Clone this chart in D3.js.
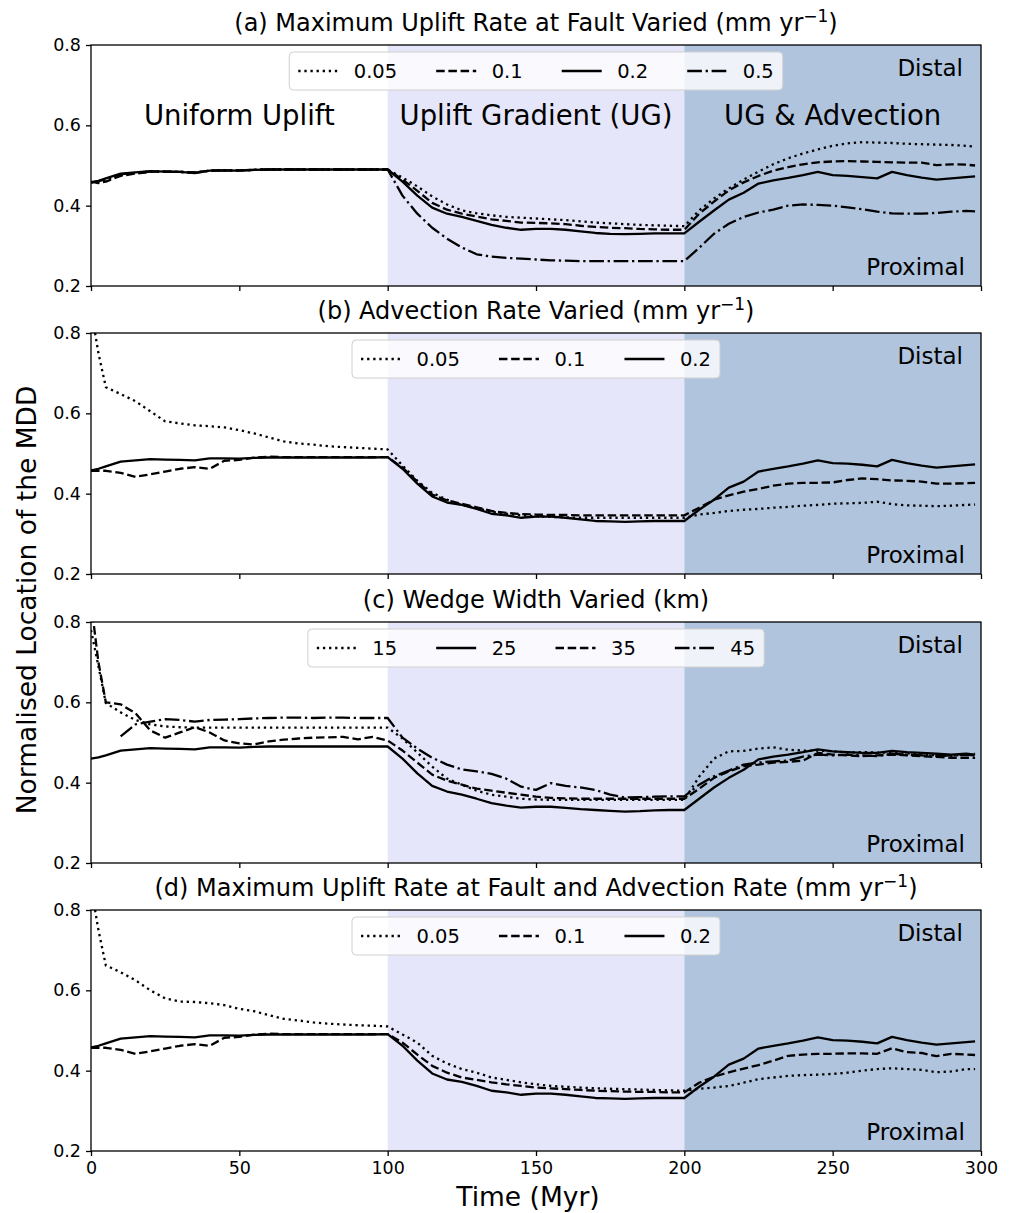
<!DOCTYPE html>
<html><head><meta charset="utf-8">
<script src="https://cdn.jsdelivr.net/npm/d3@7"></script>
<style>body{margin:0;background:#fff} text{font-family:"DejaVu Sans",sans-serif;fill:#000}</style>
</head><body><svg id="chart" width="1012" height="1213"></svg>
<script>
// ---------------- DATA ----------------
const timeMyr = [0,2.5,5,10,15,20,25,30,35,40,45,50,55,60,65,70,75,80,85,90,95,100,
  105,110,115,120,125,130,135,140,145,150,155,160,165,170,175,180,185,190,195,200,
  205,210,215,220,225,230,235,240,245,250,255,260,265,270,275,280,285,290,295,298];

const xTicks = [0,50,100,150,200,250,300];
const yTicks = [0.2,0.4,0.6,0.8];
const phaseLabels = ["Uniform Uplift","Uplift Gradient (UG)","UG & Advection"];
const phaseCentres = [50,150,250];
const phaseBounds = [[100,200],[200,300]];

// (a) Maximum uplift rate at fault varied
const a005 = [0.458,0.459,0.463,0.476,0.481,0.485,0.485,0.484,0.483,0.487,0.488,0.488,0.489,0.490,0.490,0.490,0.490,0.490,0.490,0.490,0.490,0.490,
  0.470,0.448,0.423,0.403,0.388,0.381,0.376,0.372,0.370,0.368,0.366,0.364,0.361,0.358,0.356,0.354,0.352,0.351,0.350,0.349,
  0.388,0.418,0.443,0.465,0.485,0.503,0.518,0.530,0.540,0.549,0.555,0.558,0.557,0.556,0.554,0.553,0.552,0.551,0.549,0.547];
const a01 = [0.460,0.456,0.460,0.474,0.480,0.484,0.485,0.484,0.483,0.487,0.488,0.488,0.489,0.490,0.490,0.490,0.490,0.490,0.490,0.490,0.490,0.490,
  0.465,0.437,0.407,0.390,0.380,0.373,0.366,0.362,0.358,0.357,0.356,0.354,0.350,0.347,0.345,0.344,0.342,0.341,0.340,0.340,
  0.380,0.410,0.438,0.458,0.474,0.487,0.496,0.503,0.508,0.510,0.511,0.510,0.509,0.508,0.507,0.507,0.501,0.503,0.502,0.500];
const a02 = [0.458,0.462,0.468,0.480,0.483,0.486,0.485,0.484,0.481,0.487,0.488,0.487,0.489,0.490,0.490,0.490,0.490,0.490,0.490,0.490,0.490,0.490,
  0.460,0.425,0.395,0.380,0.372,0.362,0.352,0.345,0.340,0.342,0.342,0.340,0.336,0.332,0.330,0.329,0.330,0.331,0.331,0.331,
  0.360,0.388,0.415,0.432,0.455,0.463,0.469,0.476,0.484,0.476,0.474,0.471,0.468,0.484,0.476,0.470,0.465,0.468,0.471,0.473];
const a05 = [0.458,0.461,0.466,0.478,0.482,0.485,0.485,0.484,0.482,0.487,0.488,0.488,0.489,0.490,0.490,0.490,0.490,0.490,0.490,0.490,0.490,0.490,
  0.425,0.380,0.345,0.318,0.296,0.279,0.273,0.270,0.268,0.266,0.264,0.263,0.262,0.262,0.262,0.262,0.262,0.262,0.262,0.262,
  0.295,0.330,0.355,0.372,0.383,0.390,0.400,0.403,0.402,0.400,0.396,0.391,0.385,0.381,0.380,0.380,0.382,0.385,0.387,0.386];

// (b) Advection rate varied
const b005 = [0.860,0.750,0.665,0.648,0.630,0.605,0.580,0.575,0.570,0.568,0.565,0.558,0.550,0.540,0.530,0.525,0.522,0.518,0.516,0.514,0.512,0.510,
  0.470,0.432,0.402,0.385,0.372,0.364,0.355,0.350,0.346,0.344,0.342,0.341,0.340,0.340,0.340,0.340,0.340,0.340,0.340,0.340,
  0.348,0.352,0.357,0.360,0.362,0.365,0.367,0.370,0.372,0.375,0.376,0.377,0.380,0.374,0.371,0.370,0.369,0.370,0.372,0.373];
const b01 = [0.457,0.457,0.457,0.452,0.442,0.448,0.455,0.462,0.466,0.462,0.482,0.484,0.490,0.492,0.491,0.491,0.491,0.491,0.491,0.491,0.491,0.491,
  0.465,0.430,0.398,0.383,0.375,0.366,0.357,0.352,0.349,0.348,0.347,0.347,0.346,0.346,0.346,0.346,0.346,0.346,0.346,0.346,
  0.365,0.385,0.396,0.405,0.412,0.420,0.425,0.427,0.427,0.428,0.434,0.438,0.436,0.433,0.432,0.430,0.425,0.425,0.426,0.427];
const b02 = [0.458,0.462,0.468,0.480,0.483,0.486,0.485,0.484,0.483,0.488,0.488,0.487,0.489,0.490,0.490,0.490,0.490,0.490,0.490,0.490,0.490,0.491,
  0.462,0.425,0.393,0.378,0.372,0.362,0.350,0.346,0.340,0.343,0.343,0.340,0.336,0.332,0.331,0.330,0.331,0.332,0.332,0.332,
  0.360,0.385,0.415,0.430,0.455,0.462,0.468,0.475,0.483,0.476,0.475,0.472,0.468,0.484,0.476,0.470,0.465,0.468,0.471,0.473];

// (c) Wedge width varied
const c15 = [0.780,0.690,0.598,0.575,0.556,0.545,0.540,0.538,0.537,0.537,0.537,0.537,0.537,0.537,0.537,0.537,0.537,0.537,0.537,0.537,0.537,0.537,
  0.510,0.475,0.440,0.410,0.395,0.380,0.370,0.365,0.360,0.358,0.357,0.357,0.357,0.357,0.357,0.357,0.357,0.357,0.357,0.357,
  0.415,0.460,0.478,0.479,0.485,0.488,0.482,0.480,0.480,0.478,0.475,0.476,0.475,0.475,0.473,0.470,0.468,0.467,0.470,0.472];
const c25 = [0.460,0.463,0.468,0.480,0.483,0.486,0.485,0.484,0.483,0.488,0.488,0.487,0.489,0.490,0.490,0.490,0.490,0.490,0.490,0.490,0.490,0.490,
  0.460,0.423,0.392,0.378,0.370,0.360,0.349,0.343,0.338,0.340,0.340,0.337,0.334,0.332,0.330,0.328,0.329,0.331,0.332,0.332,
  0.360,0.388,0.412,0.432,0.458,0.465,0.470,0.476,0.483,0.478,0.476,0.474,0.474,0.479,0.476,0.474,0.472,0.470,0.472,0.470];
const c35 = [0.850,0.700,0.600,0.595,0.573,0.530,0.512,0.525,0.538,0.525,0.505,0.498,0.495,0.503,0.507,0.510,0.512,0.513,0.514,0.508,0.514,0.505,
  0.480,0.450,0.420,0.405,0.395,0.385,0.380,0.375,0.370,0.365,0.362,0.361,0.360,0.360,0.360,0.360,0.360,0.360,0.360,0.360,
  0.385,0.412,0.428,0.441,0.445,0.450,0.452,0.455,0.474,0.470,0.468,0.466,0.468,0.470,0.468,0.466,0.464,0.462,0.462,0.462];
const c45 = [null,null,null,0.515,0.545,0.552,0.558,0.556,0.552,0.556,0.557,0.558,0.560,0.561,0.562,0.562,0.561,0.562,0.562,0.561,0.561,0.561,
  0.512,0.485,0.462,0.445,0.433,0.428,0.422,0.410,0.390,0.382,0.399,0.392,0.388,0.382,0.370,0.363,0.364,0.365,0.366,0.366,
  0.395,0.416,0.430,0.445,0.450,0.453,0.455,0.465,0.470,0.468,0.470,0.468,0.466,0.472,0.470,0.468,0.466,0.468,0.470,0.468];

// (d) Maximum uplift rate at fault and advection rate
const d005 = [0.860,0.750,0.662,0.645,0.625,0.600,0.580,0.572,0.571,0.568,0.563,0.554,0.548,0.538,0.529,0.525,0.520,0.517,0.515,0.513,0.512,0.510,
  0.490,0.470,0.437,0.418,0.404,0.395,0.383,0.377,0.371,0.366,0.362,0.360,0.358,0.356,0.355,0.354,0.353,0.352,0.351,0.350,
  0.355,0.358,0.362,0.370,0.379,0.383,0.387,0.389,0.390,0.392,0.395,0.400,0.404,0.406,0.404,0.402,0.396,0.398,0.404,0.404];
const d01 = [0.457,0.457,0.457,0.452,0.442,0.448,0.455,0.462,0.466,0.462,0.482,0.484,0.490,0.492,0.491,0.491,0.491,0.491,0.491,0.491,0.491,0.491,
  0.470,0.440,0.412,0.395,0.383,0.377,0.371,0.366,0.362,0.358,0.356,0.354,0.352,0.350,0.349,0.348,0.347,0.347,0.346,0.346,
  0.370,0.385,0.396,0.405,0.414,0.425,0.437,0.440,0.442,0.442,0.443,0.443,0.442,0.456,0.446,0.444,0.436,0.442,0.440,0.439];
const d02 = [0.458,0.462,0.468,0.480,0.483,0.486,0.485,0.484,0.483,0.488,0.488,0.487,0.489,0.490,0.490,0.490,0.490,0.490,0.490,0.490,0.490,0.491,
  0.462,0.425,0.393,0.378,0.372,0.362,0.350,0.346,0.340,0.343,0.343,0.340,0.336,0.332,0.331,0.330,0.331,0.332,0.332,0.332,
  0.360,0.385,0.415,0.430,0.455,0.462,0.468,0.475,0.483,0.476,0.475,0.472,0.468,0.484,0.476,0.470,0.465,0.468,0.471,0.473];

const panelTitles = [
  ["(a) Maximum Uplift Rate at Fault Varied (mm yr", "−1", ")"],
  ["(b) Advection Rate Varied (mm yr", "−1", ")"],
  ["(c) Wedge Width Varied (km)", "", ""],
  ["(d) Maximum Uplift Rate at Fault and Advection Rate (mm yr", "−1", ")"]
];
const legendLabels = [["0.05","0.1","0.2","0.5"],["0.05","0.1","0.2"],["15","25","35","45"],["0.05","0.1","0.2"]];
const seriesStyles = [["dot","dash","solid","dashdot"],["dot","dash","solid"],["dot","solid","dash","dashdot"],["dot","dash","solid"]];
const seriesValues = [[a005,a01,a02,a05],[b005,b01,b02],[c15,c25,c35,c45],[d005,d01,d02]];

// ---------------- DRAWING ----------------
const LW = 2.3;
const dashMap = {solid:null, dot:"2.3,3.8", dash:"8.5,3.7", dashdot:"14.7,3.7,2.3,3.7"};
const svg = d3.select("#chart");
const X0 = 91, X1 = 981, PH = 241;
const panelTops = [45, 333, 622, 910];
const x = d3.scaleLinear().domain([0,300]).range([X0,X1]);

panelTops.forEach((top, pi) => {
  const y = d3.scaleLinear().domain([0.2,0.8]).range([top+PH, top]);
  const g = svg.append("g");
  const cid = "clip"+pi;
  svg.append("clipPath").attr("id",cid).append("rect")
    .attr("x",X0).attr("y",top).attr("width",X1-X0).attr("height",PH);

  // phase shading
  g.append("rect").attr("x",x(phaseBounds[0][0])).attr("y",top)
    .attr("width",x(phaseBounds[0][1])-x(phaseBounds[0][0])).attr("height",PH).attr("fill","#E6E6FA");
  g.append("rect").attr("x",x(phaseBounds[1][0])).attr("y",top)
    .attr("width",x(phaseBounds[1][1])-x(phaseBounds[1][0])).attr("height",PH).attr("fill","#B0C4DE");

  // lines
  const line = d3.line().defined(d => d[1] != null).x(d => x(d[0])).y(d => y(d[1]));
  seriesValues[pi].forEach((vals, si) => {
    g.append("path").attr("clip-path",`url(#${cid})`)
      .attr("d", line(timeMyr.map((t,i)=>[t,vals[i]])))
      .attr("fill","none").attr("stroke","#000").attr("stroke-width",LW)
      .attr("stroke-linejoin","round")
      .attr("stroke-dasharray", dashMap[seriesStyles[pi][si]]);
  });

  // phase labels (panel a only)
  if (pi === 0) {
    phaseLabels.forEach((lab, k) => {
      g.append("text").attr("x", x(phaseCentres[k])).attr("y", top+80)
        .attr("text-anchor","middle").attr("font-size",27.5).text(lab);
    });
  }
  g.append("text").attr("x",X1-18).attr("y",top+31).attr("text-anchor","end").attr("font-size",23).text("Distal");
  g.append("text").attr("x",X1-16).attr("y",top+PH-11).attr("text-anchor","end").attr("font-size",23).text("Proximal");

  // legend
  const fs = 19.5, hl = 40, pad = 15.5, cs = 39;
  const lg = g.append("g");
  const items = legendLabels[pi];
  let cursor = 0; const pos = [];
  const tmp = lg.append("g");
  items.forEach((lab, k) => {
    const t = tmp.append("text").attr("font-size",fs).text(lab);
    const w = t.node().getComputedTextLength();
    pos.push([cursor, w]);
    cursor += hl + pad + w + (k < items.length-1 ? cs : 0);
  });
  tmp.remove();
  const boxW = cursor + 2*9;
  const bx = (X0+X1)/2 - boxW/2, by = top+7, bh = 38;
  lg.append("rect").attr("x",bx).attr("y",by).attr("width",boxW).attr("height",bh)
    .attr("rx",4).attr("fill","#fff").attr("fill-opacity",0.8).attr("stroke","#d0d0d0").attr("stroke-width",1);
  items.forEach((lab, k) => {
    const hx = bx + 9 + pos[k][0];
    lg.append("line").attr("x1",hx).attr("x2",hx+hl).attr("y1",by+bh/2).attr("y2",by+bh/2)
      .attr("stroke","#000").attr("stroke-width",LW).attr("stroke-dasharray",dashMap[seriesStyles[pi][k]]);
    lg.append("text").attr("x",hx+hl+pad).attr("y",by+bh/2).attr("dy","0.36em")
      .attr("font-size",fs).text(lab);
  });

  // frame
  g.append("rect").attr("x",X0).attr("y",top).attr("width",X1-X0).attr("height",PH)
    .attr("fill","none").attr("stroke","#000").attr("stroke-width",1.3);

  // axes
  const yAxis = d3.axisLeft(y).tickValues(yTicks).tickFormat(d3.format(".1f")).tickSize(5).tickPadding(5);
  const ya = g.append("g").attr("transform",`translate(${X0},0)`).call(yAxis);
  ya.select(".domain").remove();
  ya.selectAll("text").attr("font-size",17.5).style("font-family","DejaVu Sans");
  ya.selectAll("line").attr("stroke-width",1.3);
  const xAxis = d3.axisBottom(x).tickValues(xTicks).tickSize(5).tickPadding(6)
    .tickFormat(pi === 3 ? d3.format("d") : () => "");
  const xa = g.append("g").attr("transform",`translate(0,${top+PH})`).call(xAxis);
  xa.select(".domain").remove();
  xa.selectAll("text").attr("font-size",17.5).style("font-family","DejaVu Sans");
  xa.selectAll("line").attr("stroke-width",1.3);

  // title
  const tt = g.append("text").attr("x",(X0+X1)/2).attr("y",top-14).attr("text-anchor","middle").attr("font-size",24);
  tt.append("tspan").text(panelTitles[pi][0]);
  if (panelTitles[pi][1]) {
    tt.append("tspan").attr("dy",-9).attr("font-size",17).text(panelTitles[pi][1]);
    tt.append("tspan").attr("dy",9).text(panelTitles[pi][2]);
  }
});

svg.append("text").attr("transform","translate(36,600) rotate(-90)").attr("text-anchor","middle")
  .attr("font-size",26.5).text("Normalised Location of the MDD");
svg.append("text").attr("x",528).attr("y",1206).attr("text-anchor","middle")
  .attr("font-size",26.5).text("Time (Myr)");
</script></body></html>
